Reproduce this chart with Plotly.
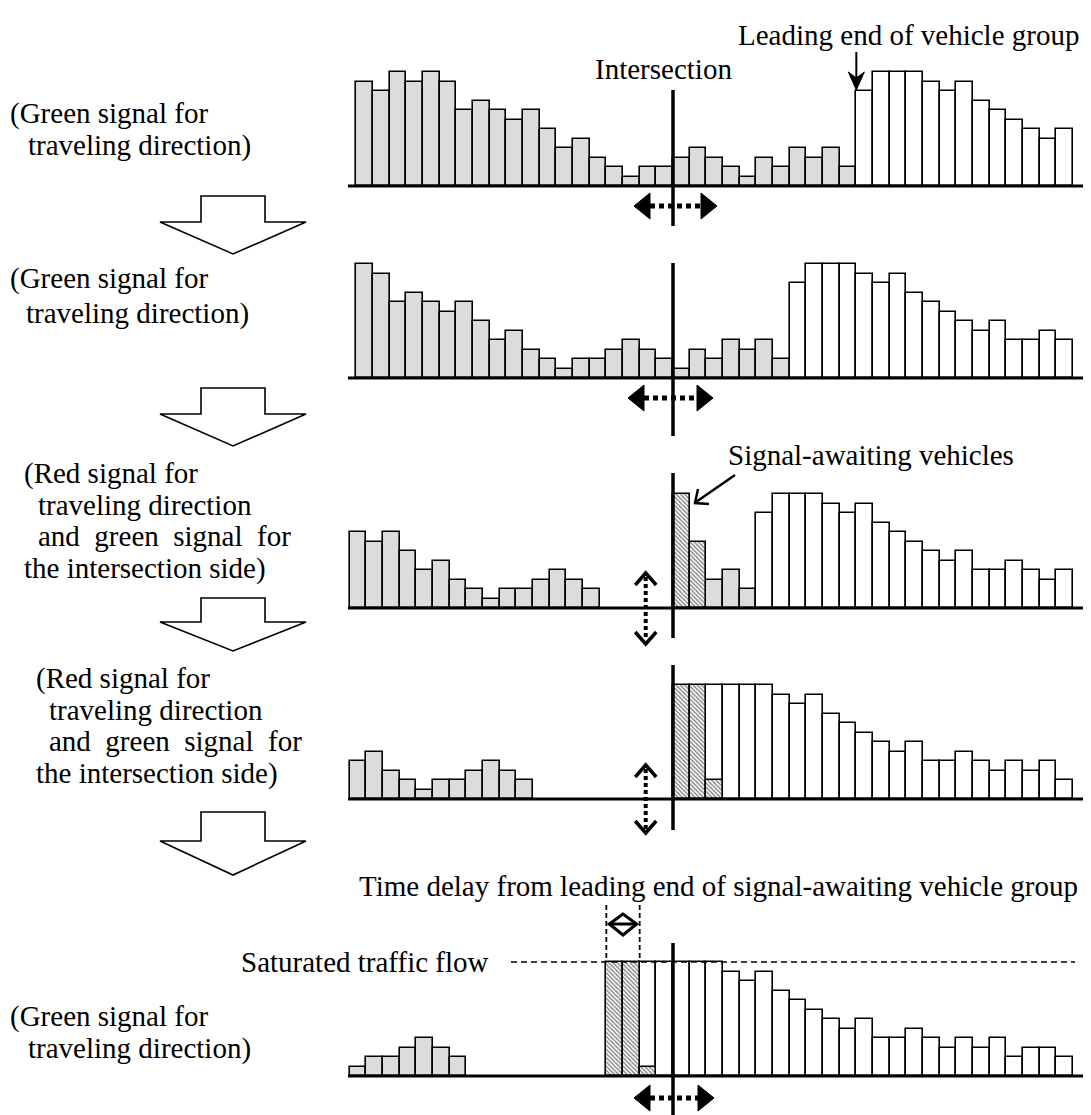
import plotly.graph_objects as go

# ---------------- data (bar heights in "vehicle units") ----------------
# positions are bar indices relative to the intersection (0 = first bar right of it)
p1_gray_start = -19
p1_gray = [11, 10, 12, 11, 12, 11, 8, 9, 8, 7, 8, 6, 4, 5, 3, 2, 1, 2, 2,
           3, 4, 3, 2, 1, 3, 2, 4, 3, 4, 2]
p1_white_start = 11
p1_white = [10, 12, 12, 12, 11, 10, 11, 9, 8, 7, 6, 5, 6]

p2_gray_start = -19
p2_gray = [12, 11, 8, 9, 8, 7, 8, 6, 4, 5, 3, 2, 1, 2, 2, 3, 4, 3, 2,
           1, 3, 2, 4, 3, 4, 2]
p2_white_start = 7
p2_white = [10, 12, 12, 12, 11, 10, 11, 9, 8, 7, 6, 5, 6, 4, 4, 5, 4]

p3_gray_left_start = -19.4
p3_gray_left = [8, 7, 8, 6, 4, 5, 3, 2, 1, 2, 2, 3, 4, 3, 2]
p3_hatch_start = 0
p3_hatch = [12, 7]
p3_gray_right_start = 2
p3_gray_right = [3, 4, 2]
p3_white_start = 5
p3_white = [10, 12, 12, 12, 11, 10, 11, 9, 8, 7, 6, 5, 6, 4, 4, 5, 4, 3, 4]

p4_gray_left_start = -19.4
p4_gray_left = [4, 5, 3, 2, 1, 2, 2, 3, 4, 3, 2]
p4_hatch_start = 0
p4_hatch = [12, 12, 2]
p4_white_start = 2
p4_white = [12, 12, 12, 12, 11, 10, 11, 9, 8, 7, 6, 5, 6, 4, 4, 5, 4, 3, 4, 3, 4, 2]

p5_gray_left_start = -19.4
p5_gray_left = [1, 2, 2, 3, 4, 3, 2]
p5_hatch_start = -4
p5_hatch = [12, 12, 1]
p5_white_start = -2
p5_white = [12, 12, 12, 12, 12, 11, 10, 11, 9, 8, 7, 6, 5, 6, 4, 4, 5, 4, 3, 4, 3, 4, 2, 3, 3, 2]
saturation_level = 12

panel_labels = [
    ["(Green signal for", "traveling direction)"],
    ["(Green signal for", "traveling direction)"],
    ["(Red signal for", "traveling direction", "and\u00a0\u00a0green\u00a0\u00a0signal\u00a0\u00a0for", "the intersection side)"],
    ["(Red signal for", "traveling direction", "and\u00a0\u00a0green\u00a0\u00a0signal\u00a0\u00a0for", "the intersection side)"],
    ["(Green signal for", "traveling direction)"],
]

# ---------------- layout geometry ----------------
W, H = 1091, 1115
U = 50 / 3          # px per bar
V = 9.5             # px per vehicle unit
X0 = 665            # intersection x (px)
BASE = [178, 370, 600, 791, 1068]
AX_L, AX_R = 340, 1080
FONT = dict(family="Liberation Serif, Times New Roman, serif", size=29, color="black")
GRAY = "#dcdcdc"

fig = go.Figure()

# invisible full-page canvas axis for decorations (pixel coords)
fig.add_trace(go.Scatter(x=[0], y=[0], mode="markers", marker=dict(opacity=0),
                         hoverinfo="skip", showlegend=False, xaxis="x", yaxis="y"))

layout_axes = dict(
    xaxis=dict(domain=[0, 1], range=[0, W], visible=False, fixedrange=True),
    yaxis=dict(domain=[0, 1], range=[H, 0], visible=False, fixedrange=True),
)

def add_bars(k, start, values, kind):
    ax = k + 2
    xs = [start + i + 0.5 for i in range(len(values))]
    if kind == "gray":
        marker = dict(color=GRAY, line=dict(color="black", width=1.6))
    elif kind == "white":
        marker = dict(color="white", line=dict(color="black", width=1.6))
    else:
        marker = dict(color="white", line=dict(color="black", width=1.6),
                      pattern=dict(shape="\\", fgcolor="black", bgcolor="white",
                                   size=3, solidity=0.45))
    fig.add_trace(go.Bar(x=xs, y=values, width=1, marker=marker,
                         xaxis=f"x{ax}", yaxis=f"y{ax}",
                         hoverinfo="skip", showlegend=False))

panels = [
    [(p1_gray_start, p1_gray, "gray"), (p1_white_start, p1_white, "white")],
    [(p2_gray_start, p2_gray, "gray"), (p2_white_start, p2_white, "white")],
    [(p3_gray_left_start, p3_gray_left, "gray"), (p3_gray_right_start, p3_gray_right, "gray"),
     (p3_white_start, p3_white, "white"), (p3_hatch_start, p3_hatch, "hatch")],
    [(p4_gray_left_start, p4_gray_left, "gray"), (p4_white_start, p4_white, "white"),
     (p4_hatch_start, p4_hatch, "hatch")],
    [(p5_gray_left_start, p5_gray_left, "gray"), (p5_white_start, p5_white, "white"),
     (p5_hatch_start, p5_hatch, "hatch")],
]

for k, series in enumerate(panels):
    ax = k + 2
    b = BASE[k]
    layout_axes[f"xaxis{ax}"] = dict(domain=[AX_L / W, AX_R / W],
                                     range=[(AX_L - X0) / U, (AX_R - X0) / U],
                                     visible=False, fixedrange=True, anchor=f"y{ax}")
    layout_axes[f"yaxis{ax}"] = dict(domain=[1 - (b + 40) / H, 1 - (b - 145) / H],
                                     range=[-40 / V, 145 / V],
                                     visible=False, fixedrange=True, anchor=f"x{ax}")
    for start, vals, kind in series:
        add_bars(k, start, vals, kind)

shapes = []
annotations = []

def line(x0, y0, x1, y1, width=2, dash="solid"):
    shapes.append(dict(type="line", xref="x", yref="y", x0=x0, y0=y0, x1=x1, y1=y1,
                       line=dict(color="black", width=width, dash=dash)))

def path(d, fill=None, width=2):
    shapes.append(dict(type="path", xref="x", yref="y", path=d,
                       fillcolor=fill if fill else "rgba(0,0,0,0)",
                       line=dict(color="black", width=width)))

def text(x, y, s, anchor="left"):
    annotations.append(dict(xref="paper", yref="paper", x=x / W, y=1 - y / H, text=s,
                            showarrow=False, xanchor=anchor, yanchor="middle",
                            font=FONT, borderpad=0))

# baselines and intersection lines
int_top = [-96, -115, -135, -134, -133]
int_bot = [40, 58, 30, 31, 40]
for k, b in enumerate(BASE):
    line(AX_L, b, AX_R, b, width=3.2)
    line(X0, b + int_top[k], X0, b + int_bot[k], width=3.5)

def harrow(xl, xr, y):
    L, h = 16, 13
    path(f"M {xl},{y} L {xl+L},{y-h} L {xl+L},{y+h} Z", fill="black", width=1)
    path(f"M {xr},{y} L {xr-L},{y-h} L {xr-L},{y+h} Z", fill="black", width=1)
    line(xl + L, y, xr - L, y, width=5, dash="5px,4px")

def varrow(x, yt, yb):
    w, h = 10.5, 12
    path(f"M {x-w},{yt+h} L {x},{yt} L {x+w},{yt+h}", width=3.5)
    path(f"M {x-w},{yb-h} L {x},{yb} L {x+w},{yb-h}", width=3.5)
    line(x, yt + 4, x, yb - 4, width=4, dash="4px,3px")

harrow(626, 709, 198)
harrow(620, 705, 390)
harrow(626, 706, BASE[4] + 22)
varrow(637.7, 565, 636)
varrow(637.7, 757, 825)

# block arrows between panels
for top, sh, tip in [(188, 214, 246), (380, 406, 438), (590, 614, 643), (804, 833, 867)]:
    path(f"M 193,{top} L 257,{top} L 257,{sh} L 298,{sh} L 225,{tip} L 152,{sh} L 193,{sh} Z",
         fill="white", width=1.6)

# leading end arrow
xl_lead = X0 + p1_white_start * U
line(xl_lead, 44, xl_lead, 70, width=2)
path(f"M {xl_lead-8},{64} L {xl_lead},{82} L {xl_lead+8},{64} L {xl_lead},{70} Z", fill="black", width=1)

# signal-awaiting arrow
line(727, 467, 688, 494, width=2.5)
path("M 690,481 L 687,495 L 701,496", width=2.5)

# saturated flow line & time delay marker
y_sat = BASE[4] - saturation_level * V
xh0 = X0 + p5_hatch_start * U
xh1 = X0 + (p5_hatch_start + 2) * U
line(503, y_sat, 1067, y_sat, width=1.6, dash="6px,4px")
line(xh0, 897, xh0, y_sat, width=1.8, dash="5px,3px")
line(xh1, 897, xh1, y_sat, width=1.8, dash="5px,3px")
xm = (xh0 + xh1) / 2
path(f"M {xm},906 L {xh0+3},916 L {xm},927 L {xh1-3},916 Z", width=3)
line(xh0 + 3, 916, xh1 - 3, 916, width=3)

# texts
text(1072, 27, "Leading end of vehicle group", anchor="right")
text(655, 61, "Intersection", anchor="center")
text(719, 447, "Signal-awaiting vehicles")
text(350, 878, "Time delay from leading end of signal-awaiting vehicle group")
text(482, y_sat, "Saturated traffic flow", anchor="right")

label_pos = [
    [(1, 105), (19, 138)],
    [(1, 270), (17, 305)],
    [(15, 465), (29, 497), (29, 528), (15, 560)],
    [(27, 670), (40, 702), (40, 733), (27, 765)],
    [(1, 1008), (19, 1040)],
]
for lines_, poss in zip(panel_labels, label_pos):
    for s, (x, y) in zip(lines_, poss):
        text(x, y, s)

fig.update_layout(
    width=W, height=H, margin=dict(l=0, r=0, t=0, b=0), autosize=False,
    paper_bgcolor="white", plot_bgcolor="rgba(0,0,0,0)",
    barmode="overlay", bargap=0, showlegend=False,
    shapes=shapes, annotations=annotations, **layout_axes,
)

fig.write_html("out.html")
